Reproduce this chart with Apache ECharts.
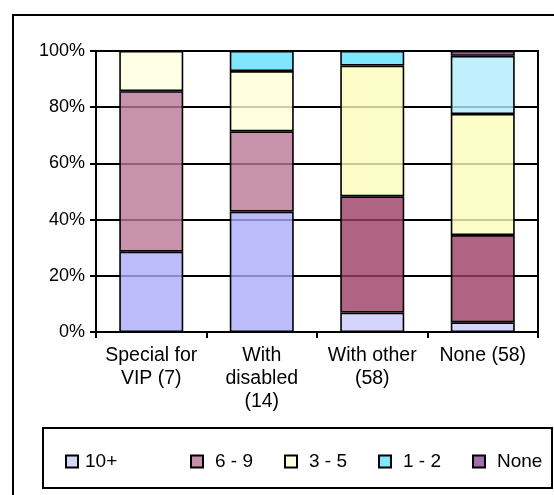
<!DOCTYPE html>
<html>
<head>
<meta charset="utf-8">
<script src="https://cdn.jsdelivr.net/npm/echarts@6/dist/echarts.min.js"></script>
<style>
  html, body { margin: 0; padding: 0; background: #fff; }
  #chart { width: 554px; height: 495px; }
</style>
</head>
<body>
<div id="chart"></div>
<script>
// Categories and respondent counts per group
const categories = ['Special for\nVIP (7)', 'With\ndisabled\n(14)', 'With other\n(58)', 'None (58)'];
const groupTotals = [7, 14, 58, 58];
const seriesNames = ['10+', '6 - 9', '3 - 5', '1 - 2', 'None'];
const count10plus = [2, 6, 4, 2];
const count6to9 = [4, 4, 24, 18];
const count3to5 = [1, 3, 27, 25];
const count1to2 = [0, 1, 3, 12];
const countNone = [0, 0, 0, 1];
const yTicks = [0, 20, 40, 60, 80, 100];

// Fill colours: legend swatch, then one per column
const legendColors = ['#d4d4fc', '#c890a8', '#ffffe0', '#80e8fc', '#a070a8'];
const pointColors = [
  ['#bcbcfa', '#bcbcfa', '#d4d4fc', '#d4d4fc'],
  ['#c891ac', '#c891ac', '#b06484', '#b06484'],
  ['#ffffe6', '#ffffe0', '#fcfcc8', '#fcfcc8'],
  ['#80e4fc', '#80e4fc', '#80e8fc', '#c0f0fc'],
  ['#a06898', '#a06898', '#a06898', '#a06898']
];

const FONT = 'Liberation Sans, Arial, sans-serif';
const ALPHA = 0.8;
const EDGE = 1.6;

// Semi-transparent fill that shows the given colour over white,
// letting the grid lines show faintly through the bars.
function glaze(hex) {
  const v = [1, 3, 5].map(i => parseInt(hex.slice(i, i + 2), 16));
  const c = v.map(x => Math.max(0, Math.min(255, Math.round((x - (1 - ALPHA) * 255) / ALPHA))));
  return 'rgba(' + c.join(',') + ',' + ALPHA + ')';
}

const counts = [count10plus, count6to9, count3to5, count1to2, countNone];

const series = counts.map((arr, si) => ({
  name: seriesNames[si],
  type: 'bar',
  stack: 'share',
  barWidth: 64,
  itemStyle: { color: legendColors[si], borderColor: '#000', borderWidth: EDGE },
  data: arr.map((v, ci) => v > 0 ? {
    value: v / groupTotals[ci] * 100,
    itemStyle: { color: glaze(pointColors[si][ci]), borderColor: '#000', borderWidth: EDGE }
  } : null)
}));

// One legend block per entry so each sits at its own spot in the box
const legendLefts = [60, 185, 279, 373, 467];
const legends = seriesNames.map((n, i) => ({
  data: [n],
  left: legendLefts[i],
  top: 447,
  itemWidth: 12,
  itemHeight: 12,
  icon: 'rect',
  selectedMode: false,
  itemStyle: { borderColor: '#000', borderWidth: 2, color: legendColors[i] },
  textStyle: { fontFamily: FONT, fontSize: 19, color: '#000', padding: [0, 0, 0, i === 0 ? 2 : 7] }
}));

const chart = echarts.init(document.getElementById('chart'), null, { renderer: 'canvas' });
chart.setOption({
  animation: false,
  backgroundColor: '#fff',
  grid: {
    left: 96, right: 16, top: 51, bottom: 163,
    show: true, borderColor: '#000', borderWidth: 2, backgroundColor: 'transparent'
  },
  legend: legends,
  xAxis: {
    type: 'category',
    data: categories,
    axisLine: { lineStyle: { color: '#000', width: 2 } },
    axisTick: { show: true, length: 6, lineStyle: { color: '#000', width: 2 } },
    axisLabel: { fontFamily: FONT, fontSize: 19.5, lineHeight: 23, color: '#000', margin: 12, interval: 0 }
  },
  yAxis: {
    type: 'value',
    min: yTicks[0],
    max: yTicks[yTicks.length - 1],
    interval: 20,
    axisLine: { show: true, lineStyle: { color: '#000', width: 2 } },
    axisTick: { show: true, length: 6, lineStyle: { color: '#000', width: 2 } },
    axisLabel: { fontFamily: FONT, fontSize: 18, color: '#000', margin: 11, formatter: '{value}%' },
    splitLine: { show: true, lineStyle: { color: '#000', width: 2 } }
  },
  graphic: [
    { type: 'rect', shape: { x: 13, y: 15, width: 560, height: 500 },
      style: { fill: 'none', stroke: '#000', lineWidth: 2 }, silent: true, z: 100 },
    { type: 'rect', shape: { x: 43, y: 428, width: 509, height: 60 },
      style: { fill: 'none', stroke: '#000', lineWidth: 2 }, silent: true, z: 100 }
  ],
  series: series
});
</script>
</body>
</html>
